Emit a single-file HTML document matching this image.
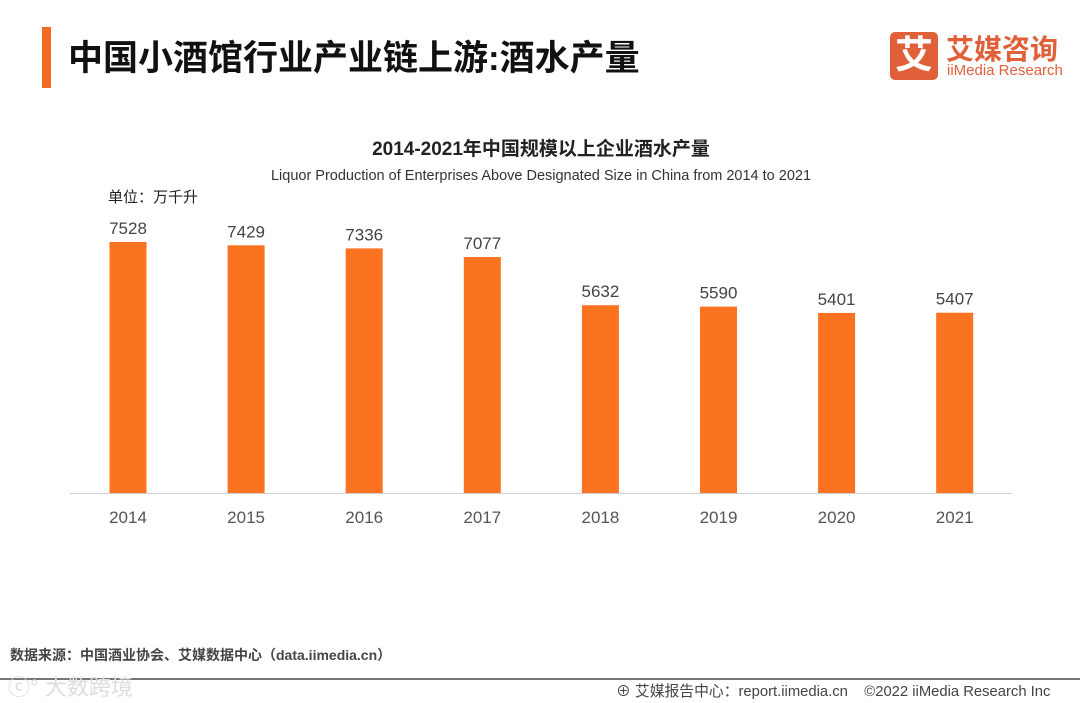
<!DOCTYPE html>
<html><head><meta charset="utf-8"><style>
body{margin:0;width:1080px;height:703px;background:#fff;position:relative;overflow:hidden;font-family:"Liberation Sans","Noto Sans CJK SC",sans-serif}
.a{position:absolute;white-space:nowrap}
</style></head><body>
<div class="a" style="left:42px;top:27px;width:9px;height:61px;background:#f26b22"></div>
<div class="a" style="left:68px;top:30px;font-size:35px;font-weight:bold;color:#111">中国小酒馆行业产业链上游:酒水产量</div>
<div class="a" style="left:890px;top:32px;width:170px;height:48px">
<div class="a" style="left:0;top:0;width:48px;height:48px;background:#e0603a;border-radius:5px;color:#fff;font-size:38px;font-weight:bold;text-align:center;line-height:48px">艾</div>
<div class="a" style="left:56px;top:-4px;font-size:28px;font-weight:bold;color:#e0603a">艾媒咨询</div>
<div class="a" style="left:57px;top:30px;font-size:15px;color:#e0603a">iiMedia Research</div>
</div>
<div class="a" style="left:0;width:1082px;top:134px;text-align:center;font-size:19px;font-weight:bold;color:#222">2014-2021年中国规模以上企业酒水产量</div>
<div class="a" style="left:0;width:1082px;top:168px;text-align:center;font-size:14.5px;color:#333">Liquor Production of Enterprises Above Designated Size in China from 2014 to 2021</div>
<div class="a" style="left:108px;top:186px;font-size:15px;color:#222">单位：万千升</div>
<svg class="a" style="left:0;top:0" width="1080" height="703" id="chart"></svg>
<div class="a" style="left:10px;top:645px;font-size:14px;color:#444;font-weight:bold">数据来源：中国酒业协会、艾媒数据中心（data.iimedia.cn）</div>
<div class="a" style="left:0;top:678px;width:1080px;height:2px;background:#777"></div>
<div class="a" style="left:8px;top:670px;font-size:22px;color:#ddd">ⓒ° 大数跨境</div>
<div class="a" style="left:616px;top:680px;font-size:14.8px;color:#444">⊕ 艾媒报告中心：report.iimedia.cn &nbsp;&nbsp; ©2022 iiMedia Research Inc</div>
<script>
const years=["2014","2015","2016","2017","2018","2019","2020","2021"];
const values=[7528,7429,7336,7077,5632,5590,5401,5407];
const svg=document.getElementById('chart');
const NS="http://www.w3.org/2000/svg";
const base=493,x0=128,step=118.1,bw=37;
const y=v=>base-v*251/7528;
const xc=i=>x0+i*step;
const ax=document.createElementNS(NS,'line');
ax.setAttribute('x1',70);ax.setAttribute('x2',1012);ax.setAttribute('y1',base+0.5);ax.setAttribute('y2',base+0.5);
ax.setAttribute('stroke','#d0d0d0');


svg.appendChild(ax);
values.forEach((v,i)=>{
 const r=document.createElementNS(NS,'rect');
 r.setAttribute('x',xc(i)-bw/2);r.setAttribute('y',y(v));r.setAttribute('width',bw);r.setAttribute('height',base-y(v));r.setAttribute('fill','#fb7320');
 
 
 svg.appendChild(r);
 const t=document.createElementNS(NS,'text');
 t.setAttribute('x',xc(i));t.setAttribute('y',y(v)-8);t.setAttribute('text-anchor','middle');t.setAttribute('font-size','17');t.setAttribute('fill','#444');
 t.textContent=v;
 
 
 svg.appendChild(t);
 const l=document.createElementNS(NS,'text');
 l.setAttribute('x',xc(i));l.setAttribute('y',523);l.setAttribute('text-anchor','middle');l.setAttribute('font-size','17');l.setAttribute('fill','#555');
 l.textContent=years[i];
 
 
 svg.appendChild(l);
});
</script>
</body></html>
